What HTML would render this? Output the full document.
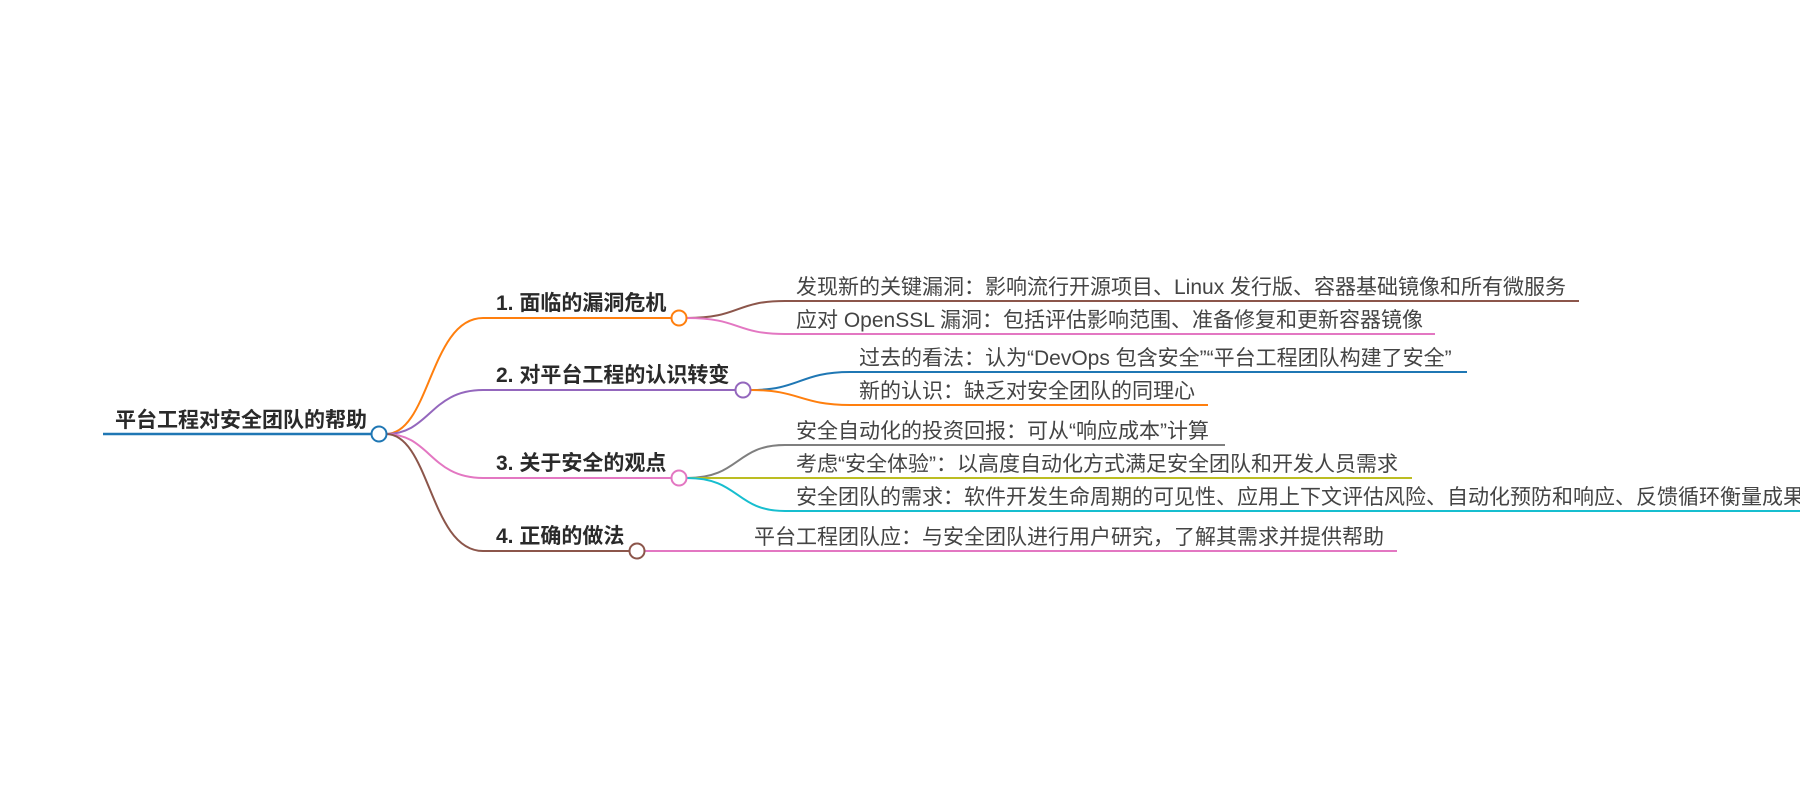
<!DOCTYPE html>
<html><head><meta charset="utf-8"><style>
html,body{margin:0;padding:0;background:#fff;width:1800px;height:800px;overflow:hidden}
svg{display:block}
text{font-family:"Liberation Sans","Noto Sans CJK SC",sans-serif;fill:#333}
.b{font-weight:bold;font-size:21px;fill:#2a2a2a}
.l{font-size:21px;fill:#444}
</style></head><body>
<svg width="1800" height="800" viewBox="0 0 1800 800" fill="none" stroke-width="2">
<line x1="103" y1="434" x2="371" y2="434" stroke="#1f77b4" stroke-width="2.5"/>
<text class="b" x="115" y="427" stroke="none">平台工程对安全团队的帮助</text>
<path d="M386 434 C430 434,430 318,483 318 L671 318" stroke="#ff7f0e"/>
<path d="M386 434 C430 434,430 390,483 390 L735 390" stroke="#9467bd"/>
<path d="M386 434 C430 434,430 478,483 478 L671 478" stroke="#e377c2"/>
<path d="M386 434 C430 434,430 551,483 551 L629 551" stroke="#8c564b"/>
<circle cx="379" cy="434" r="7.5" fill="#fff" stroke="#1f77b4" stroke-width="2"/>
<text class="b" x="496" y="310" stroke="none">1. 面临的漏洞危机</text>
<text class="b" x="496" y="382" stroke="none">2. 对平台工程的认识转变</text>
<text class="b" x="496" y="470" stroke="none">3. 关于安全的观点</text>
<text class="b" x="496" y="543" stroke="none">4. 正确的做法</text>
<path d="M687 318 C740 318,735 301,785 301 L1579 301" stroke="#8c564b"/>
<path d="M687 318 C740 318,735 334,785 334 L1435 334" stroke="#e377c2"/>
<path d="M751 390 C800 390,800 372,850 372 L1467 372" stroke="#1f77b4"/>
<path d="M751 390 C800 390,800 405,850 405 L1208 405" stroke="#ff7f0e"/>
<path d="M687 478 C740 478,735 445,785 445 L1225 445" stroke="#7f7f7f"/>
<path d="M687 478 L1412 478" stroke="#bcbd22"/>
<path d="M687 478 C740 478,735 511,785 511 L1800 511" stroke="#17becf"/>
<path d="M645 551 L1397 551" stroke="#e377c2"/>
<circle cx="679" cy="318" r="7.5" fill="#fff" stroke="#ff7f0e"/>
<circle cx="743" cy="390" r="7.5" fill="#fff" stroke="#9467bd"/>
<circle cx="679" cy="478" r="7.5" fill="#fff" stroke="#e377c2"/>
<circle cx="637" cy="551" r="7.5" fill="#fff" stroke="#8c564b"/>
<g stroke="none">
<text class="l" x="796" y="294">发现新的关键漏洞：影响流行开源项目、Linux 发行版、容器基础镜像和所有微服务</text>
<text class="l" x="796" y="327">应对 OpenSSL 漏洞：包括评估影响范围、准备修复和更新容器镜像</text>
<text class="l" x="859" y="365">过去的看法：认为“DevOps 包含安全”“平台工程团队构建了安全”</text>
<text class="l" x="859" y="398">新的认识：缺乏对安全团队的同理心</text>
<text class="l" x="796" y="438">安全自动化的投资回报：可从“响应成本”计算</text>
<text class="l" x="796" y="471">考虑“安全体验”：以高度自动化方式满足安全团队和开发人员需求</text>
<text class="l" x="796" y="504">安全团队的需求：软件开发生命周期的可见性、应用上下文评估风险、自动化预防和响应、反馈循环衡量成果</text>
<text class="l" x="754" y="544">平台工程团队应：与安全团队进行用户研究，了解其需求并提供帮助</text>
</g>
</svg>
</body></html>
